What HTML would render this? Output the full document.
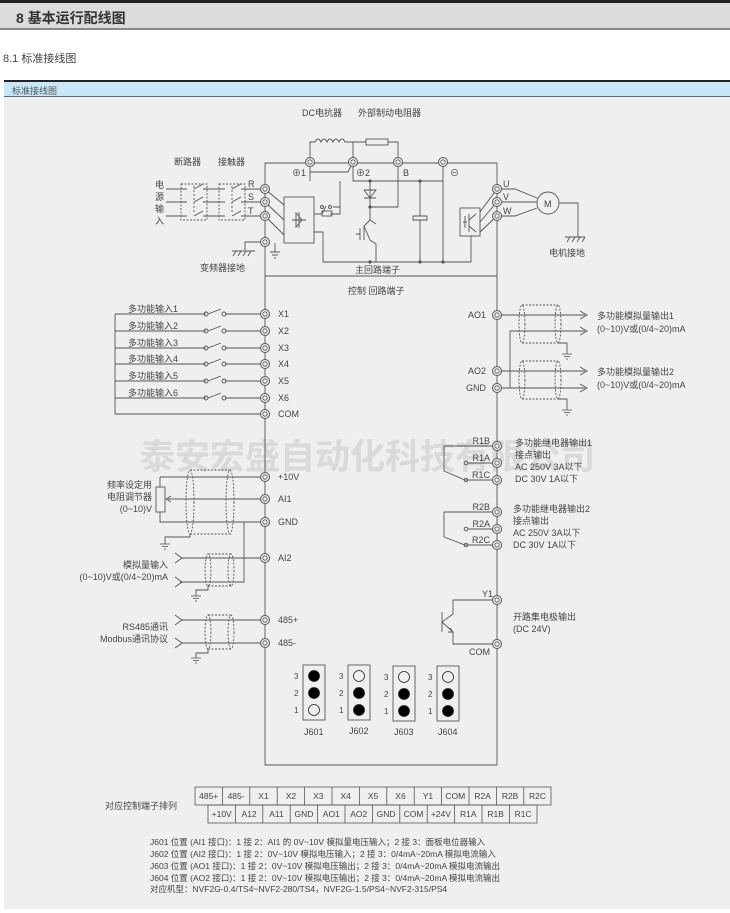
<!DOCTYPE html>
<html><head><meta charset="utf-8">
<style>
html,body{margin:0;padding:0;background:#fff;width:730px;height:913px;overflow:hidden;font-family:"Liberation Sans","Noto Sans CJK SC",sans-serif;}
.h1{position:absolute;left:0;top:0;width:730px;height:30px;background:#dcdcdc;border-top:3px solid #222;border-bottom:2px solid #888;box-sizing:border-box;}
.h1 span{position:absolute;left:16px;top:5px;font-size:14px;font-weight:bold;color:#333;}
.h2{position:absolute;left:3px;top:50px;font-size:11px;color:#444;}
.bar{position:absolute;left:4px;top:80px;width:726px;height:17px;background:#c7e6f8;border-top:2px solid #222;border-bottom:1px solid #666;box-sizing:border-box;font-size:9px;color:#555;padding:2px 0 0 8px;}
.bg{position:absolute;left:4px;top:97px;width:726px;height:812px;background:#efefef;}
svg{position:absolute;left:0;top:0;}
</style></head><body>
<div class="h1"><span>8 基本运行配线图</span></div>
<div class="h2">8.1 标准接线图</div>
<div class="bar">标准接线图</div>
<div class="bg"></div>
<svg width="730" height="913" viewBox="0 0 730 913" font-family="Liberation Sans, Noto Sans CJK SC, sans-serif" font-size="9" fill="#444">
<defs>
<g id="t"><circle r="4.5" fill="#efefef" stroke="#555" stroke-width="1"/><circle r="2.2" fill="none" stroke="#555" stroke-width="0.8"/></g>
<g id="gnd" stroke="#555" stroke-width="0.8"><line x1="-5" y1="0" x2="5" y2="0"/><line x1="-3" y1="2.5" x2="3" y2="2.5"/><line x1="-1" y1="5" x2="1" y2="5"/></g>
</defs>
<!-- watermark -->
<text x="140" y="469" font-size="35" font-weight="bold" fill="#d9d9d9" textLength="455">泰安宏盛自动化科技有限公司</text>

<g stroke="#555" stroke-width="0.9" fill="none">
<!-- main box -->
<path d="M265 163 H497 V765 H265 Z"/>
<line x1="265" y1="276" x2="497" y2="276"/>
<!-- power input lines -->
<line x1="166" y1="189" x2="265" y2="189"/><line x1="166" y1="202" x2="265" y2="202"/><line x1="166" y1="216" x2="265" y2="216"/>
<rect x="181" y="184" width="26" height="36" stroke-dasharray="2,1.5" fill="#efefef"/>
<rect x="219" y="184" width="26" height="36" stroke-dasharray="2,1.5" fill="#efefef"/>
<path d="M166 189H187 M194 189L203 184 M203 189H225 M232 189L241 184 M241 189H265"/>
<path d="M166 202H187 M194 202L203 197 M203 202H225 M232 202L241 197 M241 202H265"/>
<path d="M166 216H187 M194 216L203 211 M203 216H225 M232 216L241 211 M241 216H265"/>
<line x1="194" y1="186" x2="194" y2="212" stroke-dasharray="2,2"/>
<line x1="232" y1="186" x2="232" y2="212" stroke-dasharray="2,2"/>
<!-- to rectifier -->
<path d="M265 189 L284 205 M265 202 L284 220 M265 216 L284 235"/>
<rect x="284" y="197" width="30" height="46"/>
<path d="M292 220H306 M299 212 V228 M296 213 L302 220 L296 227 Z"/>
<path d="M314 232 H323 V262 H471"/>
<!-- DC reactor and resistor -->
<path d="M310 162 V142 H315 q3 -6 6 0 q3 -6 6 0 q3 -6 6 0 q3 -6 6 0 q3 -6 6 0 H398 V162"/>
<line x1="353" y1="142" x2="353" y2="162"/>
<rect x="366" y="139" width="22" height="6" fill="#efefef"/>
<path d="M310 162 V172 H348 L353 162"/>
<path d="M310 172 V181 M353 162 V181 H443"/>
<path d="M340 181 H340 M340 181"/>
<path d="M340 181 V207 H333"/>
<path d="M314 214 H322 M322 214 L326 206 M330 214 H340 V207"/>
<rect x="322" y="211" width="10" height="5"/>
<circle cx="322" cy="207" r="1.5"/><circle cx="330" cy="207" r="1.5"/>
<!-- diode & igbt -->
<path d="M370 181 V207 M364 198 H376 M364 190 H376 L370 198 L364 190"/>
<path d="M398 162 V207 H370 V220 L376 224 M370 220 L364 226 V240 M370 240 L376 244 V262 M364 226 L370 240 M360 228 V240 M356 234 H360"/>
<!-- capacitor -->
<path d="M420 181 V216 M413 216 H427 V220 H413 Z M420 220 V262"/>
<line x1="443" y1="162" x2="443" y2="262"/>
<!-- inverter -->
<path d="M471 262 V236"/>
<rect x="460" y="208" width="20" height="28"/>
<path d="M465 216 V228 M467 222 H463 M469 214 V232 M469 220 L476 214 M469 226 L476 232"/>
<path d="M480 212 L497 189 M480 222 L497 202 M480 232 L497 216"/>
<path d="M497 189 H515 L537 198 M497 202 H537 M497 216 H515 L537 208"/>
<circle cx="548" cy="203" r="11" fill="#efefef"/>
<path d="M559 203 H578 V237"/>
<path d="M565 237 H585 M567 242 L570 237 M572 242 L575 237 M577 242 L580 237 M582 242 L585 237"/>
<!-- inverter ground -->
<path d="M265 242 H245 V250 M232 251 H255 M233 256 L236 251 M238 256 L241 251 M243 256 L246 251 M248 256 L251 251"/>
<path d="M275 243 V252 M270 252 H280 M272 255 H278 M274 258 H276"/>
<!-- digital inputs -->
<path d="M115 314 V414 H265"/>
<g id="sw"><path d="M115 314 H206 M208 314 L221 309 M225 314 H265"/><circle cx="206" cy="314" r="2"/><circle cx="224" cy="314" r="2"/></g>
<use href="#sw" y="17"/><use href="#sw" y="34"/><use href="#sw" y="50"/><use href="#sw" y="67"/><use href="#sw" y="84"/>
<!-- analog input pot -->
<path d="M160 477 H265 M160 477 V487 M160 512 V522 H265"/>
<rect x="156" y="487" width="9" height="25"/>
<path d="M265 499 H168 M171 496 L166 499 L171 502"/>
<ellipse cx="190" cy="502" rx="4" ry="32" stroke-dasharray="2,1.5"/>
<ellipse cx="230" cy="502" rx="4" ry="32" stroke-dasharray="2,1.5"/>
<path d="M190 470 H230 M190 534 H230" stroke-dasharray="2,1.5"/>
<path d="M190 534 V537 H165 V544"/>
<path d="M244 522 V582 H180 M175 553 L182 558 L175 563 M182 558 H265 M175 577 L182 582 L175 587"/>
<ellipse cx="208" cy="570" rx="3" ry="16" stroke-dasharray="2,1.5"/>
<ellipse cx="231" cy="570" rx="3" ry="16" stroke-dasharray="2,1.5"/>
<path d="M208 554 H231 M208 586 H231" stroke-dasharray="2,1.5"/>
<path d="M208 586 V590 H196 V596"/>
<!-- 485 -->
<path d="M175 615 L182 620 L175 625 M182 620 H265 M175 638 L182 643 L175 648 M182 643 H265"/>
<ellipse cx="208" cy="632" rx="3" ry="17" stroke-dasharray="2,1.5"/>
<ellipse cx="231" cy="632" rx="3" ry="17" stroke-dasharray="2,1.5"/>
<path d="M208 615 H231 M208 649 H231" stroke-dasharray="2,1.5"/>
<path d="M208 649 V653 H196 V658"/>
<!-- analog outputs -->
<path d="M497 315 H585 M580 311 L587 315 L580 319"/>
<path d="M497 388 H510 V331 H585 M580 327 L587 331 L580 335"/>
<path d="M497 371 H585 M580 367 L587 371 L580 375 M510 388 H585 M580 384 L587 388 L580 392"/>
<ellipse cx="522" cy="324" rx="3" ry="19" stroke-dasharray="2,1.5"/>
<ellipse cx="558" cy="324" rx="3" ry="19" stroke-dasharray="2,1.5"/>
<path d="M522 305 H558 M522 343 H558" stroke-dasharray="2,1.5"/>
<path d="M558 343 H567 V354"/>
<ellipse cx="522" cy="380" rx="3" ry="19" stroke-dasharray="2,1.5"/>
<ellipse cx="558" cy="380" rx="3" ry="19" stroke-dasharray="2,1.5"/>
<path d="M522 361 H558 M522 399 H558" stroke-dasharray="2,1.5"/>
<path d="M558 399 H567 V410"/>
<!-- relays -->
<path d="M497 446 H444 V471 L465 480 H497 M468 463 H497"/>
<circle cx="466" cy="463" r="1.8"/><circle cx="466" cy="480" r="1.8"/>
<path d="M497 512 H444 V537 L465 545 H497 M468 529 H497"/>
<circle cx="466" cy="529" r="1.8"/><circle cx="466" cy="545" r="1.8"/>
<!-- Y1 transistor -->
<path d="M497 600 H453 V614 L442 622 M442 612 V632 M442 622 L453 632 V644 H497 M450 628 L453 632 L448 632"/>
<!-- jumpers -->
<rect x="303" y="665" width="22" height="55"/><rect x="348" y="665" width="22" height="55"/>
<rect x="393" y="666" width="22" height="55"/><rect x="437" y="666" width="22" height="55"/>
</g>
<!-- ground symbols -->
<use href="#gnd" x="165" y="544"/><use href="#gnd" x="196" y="596"/><use href="#gnd" x="196" y="658"/>
<use href="#gnd" x="567" y="354"/><use href="#gnd" x="567" y="410"/>
<!-- dots -->
<g fill="#555"><circle cx="370" cy="181" r="1.6"/><circle cx="420" cy="181" r="1.6"/><circle cx="370" cy="207" r="1.6"/><circle cx="370" cy="262" r="1.6"/><circle cx="420" cy="262" r="1.6"/><circle cx="443" cy="262" r="1.6"/></g>
<!-- jumper dots -->
<g stroke="#222" stroke-width="0.8">
<circle cx="314" cy="676" r="5.5" fill="#000"/><circle cx="314" cy="693" r="5.5" fill="#000"/><circle cx="314" cy="710" r="5.5" fill="#efefef"/>
<circle cx="359" cy="676" r="5.5" fill="#efefef"/><circle cx="359" cy="693" r="5.5" fill="#000"/><circle cx="359" cy="710" r="5.5" fill="#000"/>
<circle cx="404" cy="677" r="5.5" fill="#efefef"/><circle cx="404" cy="694" r="5.5" fill="#000"/><circle cx="404" cy="711" r="5.5" fill="#000"/>
<circle cx="448" cy="677" r="5.5" fill="#efefef"/><circle cx="448" cy="694" r="5.5" fill="#000"/><circle cx="448" cy="711" r="5.5" fill="#000"/>
</g>
<g font-size="8">
<text x="294" y="679">3</text><text x="294" y="696">2</text><text x="294" y="713">1</text>
<text x="339" y="679">3</text><text x="339" y="696">2</text><text x="339" y="713">1</text>
<text x="384" y="680">3</text><text x="384" y="697">2</text><text x="384" y="714">1</text>
<text x="428" y="680">3</text><text x="428" y="697">2</text><text x="428" y="714">1</text>
</g>
<text x="304" y="735">J601</text><text x="349" y="734">J602</text><text x="394" y="735">J603</text><text x="438" y="735">J604</text>
<!-- terminals -->
<use href="#t" x="310" y="162"/><use href="#t" x="353" y="162"/><use href="#t" x="398" y="162"/><use href="#t" x="443" y="162"/>
<use href="#t" x="265" y="189"/><use href="#t" x="265" y="202"/><use href="#t" x="265" y="216"/><use href="#t" x="265" y="242"/>
<use href="#t" x="497" y="189"/><use href="#t" x="497" y="202"/><use href="#t" x="497" y="216"/>
<use href="#t" x="265" y="314"/><use href="#t" x="265" y="331"/><use href="#t" x="265" y="348"/><use href="#t" x="265" y="364"/><use href="#t" x="265" y="381"/><use href="#t" x="265" y="398"/><use href="#t" x="265" y="414"/>
<use href="#t" x="265" y="477"/><use href="#t" x="265" y="499"/><use href="#t" x="265" y="522"/><use href="#t" x="265" y="558"/><use href="#t" x="265" y="620"/><use href="#t" x="265" y="643"/>
<use href="#t" x="497" y="315"/><use href="#t" x="497" y="371"/><use href="#t" x="497" y="388"/>
<use href="#t" x="497" y="446"/><use href="#t" x="497" y="463"/><use href="#t" x="497" y="480"/>
<use href="#t" x="497" y="512"/><use href="#t" x="497" y="529"/><use href="#t" x="497" y="545"/>
<use href="#t" x="497" y="600"/><use href="#t" x="497" y="644"/>
<!-- labels -->
<text x="302" y="116">DC电抗器</text><text x="358" y="116">外部制动电阻器</text>
<text x="174" y="165">断路器</text><text x="218" y="165">接触器</text>
<text x="155" y="188">电</text><text x="155" y="200">源</text><text x="155" y="212">输</text><text x="155" y="224">入</text>
<text x="248" y="187">R</text><text x="248" y="200">S</text><text x="248" y="214">T</text>
<text x="292" y="176">⊕1</text><text x="356" y="176">⊕2</text><text x="403" y="176">B</text><text x="450" y="176">⊖</text>
<text x="503" y="187">U</text><text x="503" y="200">V</text><text x="503" y="214">W</text>
<text x="544" y="207">M</text>
<text x="549" y="256">电机接地</text>
<text x="200" y="271">变频器接地</text>
<text x="355" y="273">主回路端子</text>
<text x="348" y="294">控制 回路端子</text>
<text x="128" y="312">多功能输入1</text><text x="128" y="329">多功能输入2</text><text x="128" y="346">多功能输入3</text>
<text x="128" y="362">多功能输入4</text><text x="128" y="379">多功能输入5</text><text x="128" y="396">多功能输入6</text>
<text x="278" y="317">X1</text><text x="278" y="334">X2</text><text x="278" y="351">X3</text><text x="278" y="367">X4</text><text x="278" y="384">X5</text><text x="278" y="401">X6</text><text x="278" y="417">COM</text>
<text x="278" y="480">+10V</text><text x="278" y="502">AI1</text><text x="278" y="525">GND</text><text x="278" y="561">AI2</text><text x="278" y="623">485+</text><text x="278" y="646">485-</text>
<g text-anchor="end">
<text x="152" y="488">频率设定用</text><text x="152" y="500">电阻调节器</text><text x="152" y="512">(0~10)V</text>
<text x="168" y="568">模拟量输入</text><text x="168" y="580">(0~10)V或(0/4~20)mA</text>
<text x="168" y="630">RS485通讯</text><text x="168" y="642">Modbus通讯协议</text>
<text x="486" y="318">AO1</text><text x="486" y="374">AO2</text><text x="486" y="391">GND</text>
<text x="490" y="444">R1B</text><text x="490" y="461">R1A</text><text x="490" y="478">R1C</text>
<text x="490" y="510">R2B</text><text x="490" y="527">R2A</text><text x="490" y="543">R2C</text>
<text x="493" y="597">Y1</text><text x="490" y="655">COM</text>
</g>
<text x="597" y="319">多功能模拟量输出1</text><text x="597" y="332">(0~10)V或(0/4~20)mA</text>
<text x="597" y="375">多功能模拟量输出2</text><text x="597" y="388">(0~10)V或(0/4~20)mA</text>
<text x="515" y="446">多功能继电器输出1</text><text x="515" y="458">接点输出</text><text x="515" y="470">AC 250V  3A以下</text><text x="515" y="482">DC 30V     1A以下</text>
<text x="513" y="512">多功能继电器输出2</text><text x="513" y="524">接点输出</text><text x="513" y="536">AC 250V  3A以下</text><text x="513" y="548">DC 30V     1A以下</text>
<text x="513" y="620">开路集电极输出</text><text x="513" y="632">(DC 24V)</text>
<!-- terminal strip -->
<text x="105" y="809">对应控制端子排列</text>
<g stroke="#555" stroke-width="0.8" fill="none">
<rect x="195" y="787" width="356" height="18"/><rect x="208" y="805" width="329" height="18"/>
<path d="M222.4 787V805 M249.8 787V805 M277.2 787V805 M304.6 787V805 M332 787V805 M359.4 787V805 M386.8 787V805 M414.2 787V805 M441.6 787V805 M469 787V805 M496.4 787V805 M523.8 787V805"/>
<path d="M235.4 805V823 M262.8 805V823 M290.2 805V823 M317.6 805V823 M345 805V823 M372.4 805V823 M399.8 805V823 M427.2 805V823 M454.6 805V823 M482 805V823 M509.4 805V823"/>
</g>
<g text-anchor="middle" font-size="8.5">
<text x="208.7" y="799">485+</text><text x="236.1" y="799">485-</text><text x="263.5" y="799">X1</text><text x="290.9" y="799">X2</text><text x="318.3" y="799">X3</text><text x="345.7" y="799">X4</text><text x="373.1" y="799">X5</text><text x="400.5" y="799">X6</text><text x="427.9" y="799">Y1</text><text x="455.3" y="799">COM</text><text x="482.7" y="799">R2A</text><text x="510.1" y="799">R2B</text><text x="537.5" y="799">R2C</text>
<text x="221.7" y="817">+10V</text><text x="249.1" y="817">A12</text><text x="276.5" y="817">A11</text><text x="303.9" y="817">GND</text><text x="331.3" y="817">AO1</text><text x="358.7" y="817">AO2</text><text x="386.1" y="817">GND</text><text x="413.5" y="817">COM</text><text x="440.9" y="817">+24V</text><text x="468.3" y="817">R1A</text><text x="495.7" y="817">R1B</text><text x="523.1" y="817">R1C</text>
</g>
<g font-size="8.5">
<text x="150" y="845">J601 位置 (AI1 接口)：1 接 2：AI1 的 0V~10V 模拟量电压输入；2 接 3：面板电位器输入</text>
<text x="150" y="857">J602 位置 (AI2 接口)：1 接 2：0V~10V 模拟电压输入；2 接 3：0/4mA~20mA 模拟电流输入</text>
<text x="150" y="869">J603 位置 (AO1 接口)：1 接 2：0V~10V 模拟电压输出；2 接 3：0/4mA~20mA 模拟电流输出</text>
<text x="150" y="881">J604 位置 (AO2 接口)：1 接 2：0V~10V 模拟电压输出；2 接 3：0/4mA~20mA 模拟电流输出</text>
<text x="150" y="892">对应机型：NVF2G-0.4/TS4~NVF2-280/TS4，NVF2G-1.5/PS4~NVF2-315/PS4</text>
</g>
</svg>
</body></html>
